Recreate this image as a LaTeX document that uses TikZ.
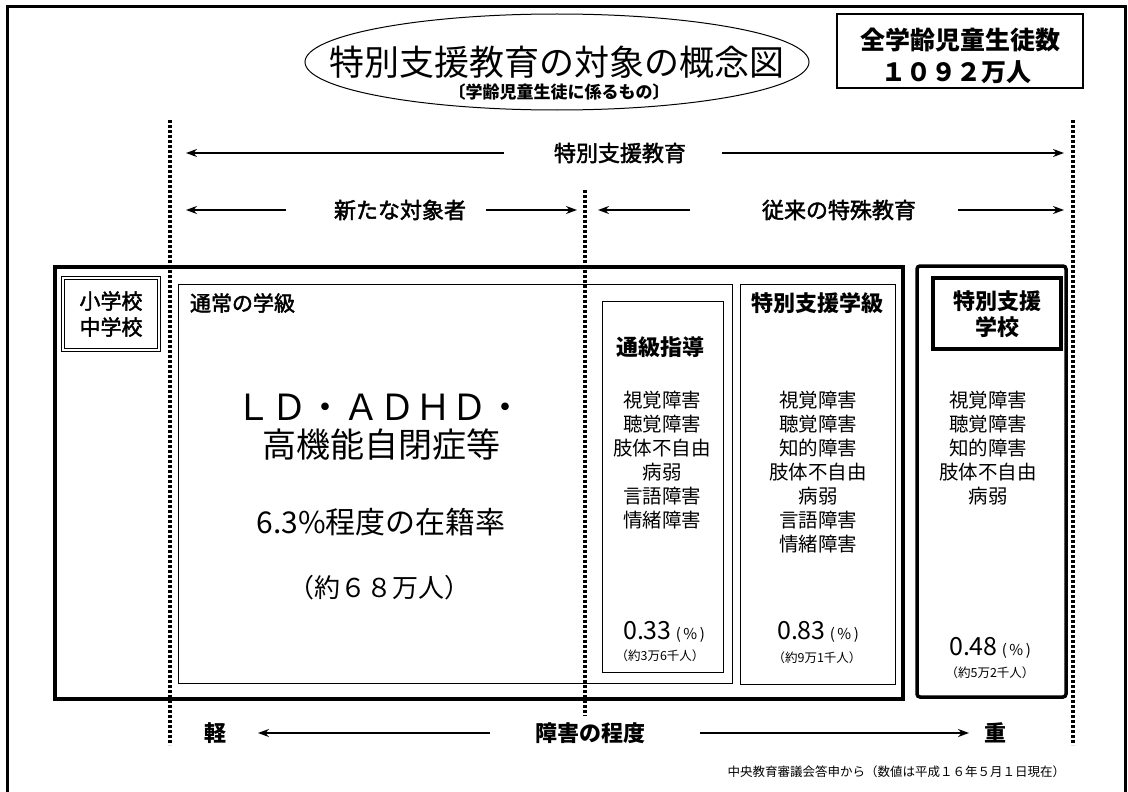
\documentclass[tikz,border=0pt]{standalone}
\usepackage{fontspec}
\setmainfont{Noto Sans CJK JP}
\newfontfamily\medfont{Noto Sans CJK JP}[FakeBold=2]
\usetikzlibrary{arrows.meta,shapes.geometric}
\newcommand\myfs[1]{\fontsize{#1pt}{#1pt}\selectfont}
\begin{document}
\begin{tikzpicture}[x=1pt,y=-1pt,
  every node/.style={inner sep=0pt,outer sep=0pt},
  arr/.style={line width=2.4pt,-{Stealth[length=11pt,width=8pt]}},
  dotline/.style={line width=3.5pt,dash pattern=on 3pt off 2pt},
  thinbox/.style={draw,line width=1pt},
  thickbox/.style={draw,line width=3.5pt},
  lbl/.style={font=\medfont\myfs{22}},
  bl/.style={font=\bfseries\myfs{22}},
  listtxt/.style={font=\fontsize{19.5pt}{24pt}\selectfont,align=center,anchor=north},
  pct/.style={font=\myfs{25}},
  cnt/.style={font=\myfs{12.5}}]
\useasboundingbox (0,0) rectangle (1128,792);
% outer frame
\draw[line width=3pt] (7,800) -- (7,7) -- (1125,7) -- (1125,800);
% title
\node[ellipse,draw,line width=1pt,minimum width=504pt,minimum height=96pt] (tell) at (557,62) {};
\node[font=\myfs{35}] (title) at (557,62) {特別支援教育の対象の概念図};
\node[font=\bfseries\myfs{17}] (subt) at (559,92) {〔学齢児童生徒に係るもの〕};
% total box
\node[draw,line width=1.2pt,minimum width=246pt,minimum height=74pt] (tbox) at (960,51) {};
\node[font=\bfseries\myfs{25}] (tot1) at (960,40) {全学齢児童生徒数};
\node[font=\bfseries\myfs{25}] (tot2) at (956,72) {１０９２万人};
% dotted lines
\draw[dotline] (170,120) -- (170,745);
\draw[dotline] (585,190) -- (585,716);
\draw[dotline] (1073,120) -- (1073,745);
% row 1
\coordinate (r1l) at (186,153);
\coordinate (r1r) at (1064,153);
\node[lbl] (r1t) at (620,153) {特別支援教育};
\draw[arr] ([xshift=-50pt]r1t.west) -- (r1l);
\draw[arr] ([xshift=36pt]r1t.east) -- (r1r);
% row 2
\coordinate (r2a) at (186,210);
\coordinate (r2b) at (577,210);
\coordinate (r2c) at (598,210);
\coordinate (r2d) at (1064,210);
\node[lbl] (r2t1) at (400,210) {新たな対象者};
\node[lbl] (r2t2) at (839,210) {従来の特殊教育};
\draw[arr] ([xshift=-48pt]r2t1.west) -- (r2a);
\draw[arr] ([xshift=20pt]r2t1.east) -- (r2b);
\draw[arr] ([xshift=-72pt]r2t2.west) -- (r2c);
\draw[arr] ([xshift=42pt]r2t2.east) -- (r2d);
% main box
\node[thickbox,minimum width=848pt,minimum height=432pt] (mainb) at (479,483) {};
\node[draw,line width=1pt,double,double distance=1.6pt,minimum width=96pt,minimum height=72pt] (schb) at (111,314) {};
\node[font=\medfont\fontsize{21pt}{26pt}\selectfont,align=center] (scht) at (111,314) {小学校\\中学校};
% regular class
\node[thinbox,minimum width=554pt,minimum height=399pt] (regb) at (455,483.5) {};
\node[font=\medfont\myfs{21},anchor=west] (regt) at (190,303) {通常の学級};
\node[font=\myfs{36}] (ld) at (379,407) {ＬＤ・ＡＤＨＤ・};
\node[font=\myfs{34}] (hfa) at (381,445) {高機能自閉症等};
\node[font=\myfs{30}] (rate) at (381,522) {6.3\%程度の在籍率};
\node[font=\myfs{26}] (num) at (379,588) {（約６８万人）};
% resource room
\node[thinbox,minimum width=121pt,minimum height=371pt] (tsub) at (662.5,486.5) {};
\node[bl] (tsut) at (660,347) {通級指導};
\node[listtxt] (tsul) at (662,391) {視覚障害\\聴覚障害\\肢体不自由\\病弱\\言語障害\\情緒障害};
\node[pct] (tsup) at (664,632) {0.33\,{\myfs{15}(\,\%\,)}};
\node[cnt] (tsuc) at (660,656) {（約3万6千人）};
% special class
\node[thinbox,minimum width=155pt,minimum height=400pt] (clsb) at (817.5,484) {};
\node[bl] (clst) at (817,303) {特別支援学級};
\node[listtxt] (clsl) at (818,391) {視覚障害\\聴覚障害\\知的障害\\肢体不自由\\病弱\\言語障害\\情緒障害};
\node[pct] (clsp) at (818,632) {0.83\,{\myfs{15}(\,\%\,)}};
\node[cnt] (clsc) at (817,658) {（約9万1千人）};
% special school
\node[thickbox,rounded corners=3pt,minimum width=149pt,minimum height=431pt] (sclb) at (991.5,481.5) {};
\node[thickbox,minimum width=128pt,minimum height=71pt] (scll) at (997,313.5) {};
\node[font=\bfseries\fontsize{22pt}{26pt}\selectfont,align=center] (sclt) at (997,314) {特別支援\\学校};
\node[listtxt] (scls) at (988,391) {視覚障害\\聴覚障害\\知的障害\\肢体不自由\\病弱};
\node[pct] (sclp) at (990,648) {0.48\,{\myfs{15}(\,\%\,)}};
\node[cnt] (sclc) at (990,673) {（約5万2千人）};
% bottom row
\node[bl] (light) at (215,733) {軽};
\node[bl] (deg) at (590,733) {障害の程度};
\node[bl] (heavy) at (995,733) {重};
\draw[arr] ([xshift=-45pt]deg.west) -- ([xshift=32pt]light.east);
\draw[arr] ([xshift=55pt]deg.east) -- ([xshift=-15pt]heavy.west);
% footer
\node[font=\myfs{12.5},anchor=east] (foot) at (1065,772) {中央教育審議会答申から（数値は平成１６年５月１日現在）};
\end{tikzpicture}
\end{document}
